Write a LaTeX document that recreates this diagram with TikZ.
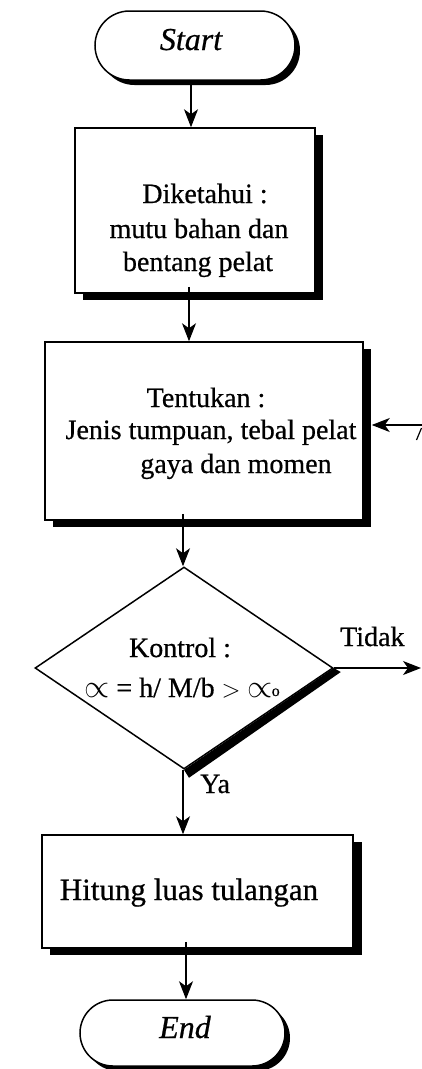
\documentclass[tikz,border=0pt]{standalone}
\usepackage{fontspec}
\setmainfont{Liberation Serif}[FakeBold=0.6]
\usetikzlibrary{arrows.meta,shapes.misc,shapes.geometric,shadows}

\begin{document}
\begin{tikzpicture}[x=1pt,y=-1pt,
  arr/.style={-{Stealth[length=18pt,width=14pt,inset=5pt]}, line width=1.1pt},
  procbox/.style={draw, fill=white, rectangle, inner sep=0pt, line width=1.5pt,
    drop shadow={shadow xshift=8pt, shadow yshift=-7pt, fill=black, opacity=1}},
  term/.style={draw, fill=white, rounded rectangle, inner sep=0pt, line width=1.5pt,
    drop shadow={shadow xshift=5pt, shadow yshift=-5pt, fill=black, opacity=1}},
  decision/.style={draw, fill=white, diamond, inner sep=0pt, line width=1.5pt},
  txt/.style={inner sep=0pt, anchor=base, font=\fontsize{28}{32}\selectfont},
  bigtxt/.style={txt, font=\fontsize{31}{35}\selectfont},
  termtxt/.style={txt, font=\fontsize{32}{36}\selectfont\itshape}
]
\useasboundingbox (0,0) rectangle (422,1069);

% ---- shapes ----
\node[term, minimum width=200pt, minimum height=69pt] (start) at (195,45.5) {};
\node[procbox, minimum width=240pt, minimum height=165pt] (dik) at (195,210.5) {};
\node[procbox, minimum width=318pt, minimum height=178pt] (tent) at (204,431) {};
\node[decision, minimum width=298pt, minimum height=202pt] (kon) at (184,668) {};
\fill (kon.east) -- ([shift={(7,4)}]kon.east) -- ([shift={(5,8)}]kon.south) -- (kon.south) -- cycle;
\node[procbox, minimum width=311pt, minimum height=113pt,
  drop shadow={shadow xshift=9pt, shadow yshift=-7pt, fill=black, opacity=1}] (hit) at (197.5,891.5) {};
\node[term, minimum width=205pt, minimum height=66pt] (end) at (182.5,1033) {};

% ---- texts ----
\node[termtxt] (startT) at (191,50) {Start};
\node[txt] (dik1) at (205,203) {Diketahui :};
\node[txt] (dik2) at (199,238) {mutu bahan dan};
\node[txt] (dik3) at (198,271) {bentang pelat};
\node[txt] (tent1) at (206,407) {Tentukan :};
\node[txt] (tent2) at (211,439) {Jenis tumpuan, tebal pelat};
\node[txt] (tent3) at (236,473) {gaya dan momen};
\node[txt] (kon1) at (180,657) {Kontrol :};
\node[txt] (kon2) at (182,697) {\scalebox{1.3}{$\propto$} = h/ M/b $>$ \scalebox{1.3}{$\propto$}\kern-1pt\raisebox{1pt}{\fontsize{16}{18}\selectfont o}};
\node[txt, anchor=base west] (tidak) at (340,646) {Tidak};
\node[txt, anchor=base west] (ya) at (200,793) {Ya};
\node[bigtxt] (hitT) at (189,900) {Hitung luas tulangan};
\node[termtxt] (endT) at (185,1038) {End};

% ---- connectors ----
\coordinate (tidakEnd) at (421,668);
\coordinate (backIn) at (422,425);
\draw[arr] ([xshift=-4pt]start.south) -- ([xshift=-4pt]dik.north);
\draw[arr] ([xshift=-6pt,yshift=7pt]dik.south) -- ([xshift=-15pt]tent.north);
\draw[arr] ([xshift=-21pt,yshift=7pt]tent.south) -- ([xshift=-1pt]kon.north);
\draw[arr] ([xshift=-1pt]kon.south) -- ([xshift=-14.5pt]hit.north);
\draw[arr] ([xshift=-11.5pt,yshift=7pt]hit.south) -- ([xshift=3.5pt]end.north);
\draw[arr] (kon.east) -- (tidakEnd);
\draw[arr] (backIn) -- ([xshift=8pt]tent.east |- backIn);
% stroke of a letter cut by the right margin
\draw[line width=1.2pt] (416.5,440) -- (421.5,428);
\end{tikzpicture}
\end{document}
